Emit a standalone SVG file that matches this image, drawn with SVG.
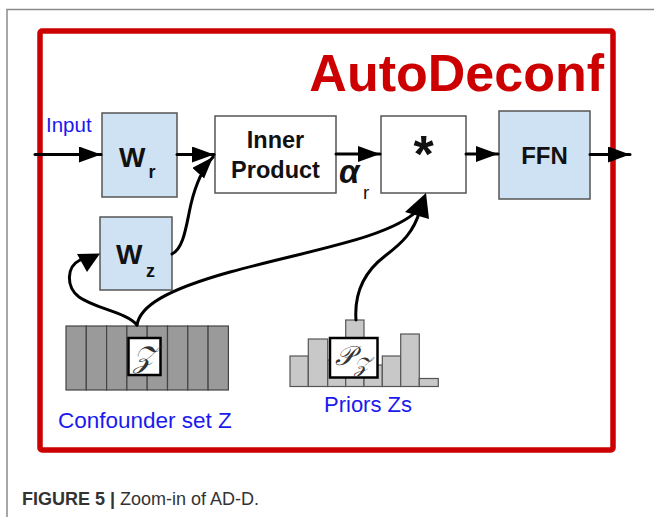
<svg xmlns="http://www.w3.org/2000/svg" width="654" height="517" viewBox="0 0 654 517">
<defs>
<marker id="ah" markerUnits="userSpaceOnUse" markerWidth="24" markerHeight="18" refX="22" refY="8" orient="auto">
<path d="M0,0 L22,8 L0,16 z" fill="#000"/>
</marker>
<style>
.blue{fill:#cfe2f3;stroke:#555;stroke-width:1.5}
.white{fill:#fff;stroke:#555;stroke-width:1.5}
.lbl{font-family:"Liberation Sans",Arial,sans-serif;font-weight:bold;fill:#111}
.bl{font-family:"Liberation Sans",Arial,sans-serif;fill:#1a1aee}
.ln{fill:none;stroke:#000;stroke-width:3;stroke-linecap:round}
.cb{fill:#9a9a9a;stroke:#444;stroke-width:1.2}
.pb{fill:#c8c8c8;stroke:#555;stroke-width:1.2}
.sc{font-family:"DejaVu Serif","Liberation Serif",serif;font-style:italic;fill:#333}
</style>
</defs>
<rect width="654" height="517" fill="#fff"/>
<path d="M7,517 V9.5 H654" fill="none" stroke="#8a8a8a" stroke-width="1.5"/>
<rect x="40" y="31" width="573" height="419" rx="2" fill="none" stroke="#cc0000" stroke-width="5.5"/>
<text x="604" y="91" font-family="Liberation Sans,Arial,sans-serif" font-weight="bold" font-size="52" fill="#cc0000" text-anchor="end">AutoDeconf</text>

<g id="confounder">
<rect class="cb" x="66" y="326" width="20.3" height="64"/>
<rect class="cb" x="86.3" y="326" width="20.3" height="64"/>
<rect class="cb" x="106.6" y="326" width="20.3" height="64"/>
<rect class="cb" x="126.9" y="326" width="20.3" height="64"/>
<rect class="cb" x="147.2" y="326" width="20.3" height="64"/>
<rect class="cb" x="167.5" y="326" width="20.3" height="64"/>
<rect class="cb" x="187.8" y="326" width="20.3" height="64"/>
<rect class="cb" x="208.1" y="326" width="20.3" height="64"/>
<rect x="128.5" y="338" width="32" height="37" fill="#fff" stroke="#000" stroke-width="2.5"/>
<text class="sc" x="144.5" y="367" font-size="30" text-anchor="middle">𝒵</text>
<text class="bl" x="58" y="428" font-size="22.5">Confounder set Z</text>
</g>

<g id="priors">
<rect class="pb" x="290" y="356" width="18.3" height="30.5"/>
<rect class="pb" x="308.3" y="339" width="19.4" height="47.5"/>
<rect class="pb" x="327.7" y="360" width="18" height="26.5"/>
<rect class="pb" x="345.7" y="320" width="18.3" height="66.5"/>
<rect class="pb" x="364" y="365" width="18.3" height="21.5"/>
<rect class="pb" x="382.3" y="356" width="18.4" height="30.5"/>
<rect class="pb" x="400.7" y="334" width="18.6" height="52.5"/>
<rect class="pb" x="419.3" y="378.5" width="19" height="8"/>
<rect x="330" y="338" width="47.5" height="39.5" fill="#fff" stroke="#000" stroke-width="2.5"/>
<text class="sc" x="335" y="365" font-size="27">𝒫</text>
<text class="sc" x="354" y="372" font-size="21">𝒵</text>
<text class="bl" x="324" y="412" font-size="22">Priors Zs</text>
</g>

<g id="input-label"><text class="bl" x="46" y="132" font-size="20.5">Input</text></g>

<g id="Wr">
<rect class="blue" x="102" y="113" width="75" height="84"/>
<text class="lbl" x="119" y="167" font-size="28">W</text>
<text class="lbl" x="148.5" y="178" font-size="18">r</text>
</g>

<g id="Wz">
<rect class="blue" x="100" y="217" width="72" height="73"/>
<text class="lbl" x="116" y="264" font-size="28">W</text>
<text class="lbl" x="146" y="277" font-size="18">z</text>
</g>

<g id="inner">
<rect class="white" x="215" y="116" width="121" height="77"/>
<text class="lbl" x="275.5" y="148" font-size="23.5" text-anchor="middle">Inner</text>
<text class="lbl" x="275.5" y="178" font-size="23.5" text-anchor="middle">Product</text>
</g>

<g id="star">
<rect class="white" x="381" y="116" width="85" height="77"/>
<text class="lbl" x="423.5" y="172" font-size="52" text-anchor="middle">*</text>
</g>

<g id="ffn">
<rect class="blue" x="499" y="111" width="91" height="88"/>
<text class="lbl" x="544.5" y="163.5" font-size="24" text-anchor="middle">FFN</text>
</g>

<g id="alpha">
<text x="339" y="183" font-family="Liberation Sans,Arial,sans-serif" font-weight="bold" font-style="italic" font-size="33" fill="#111">α</text>
<text x="363" y="199" font-family="Liberation Sans,Arial,sans-serif" font-size="19" fill="#111">r</text>
</g>

<g id="connectors">
<path class="ln" d="M35,154.5 H101" marker-end="url(#ah)"/>
<path class="ln" d="M177,154.5 H214" marker-end="url(#ah)"/>
<path class="ln" d="M336,154 H380" marker-end="url(#ah)"/>
<path class="ln" d="M466,154 H498" marker-end="url(#ah)"/>
<path class="ln" d="M590,154.5 H630" marker-end="url(#ah)"/>
<path class="ln" d="M172,254 C184,248 186,226 191,204 C196,183 202,169 213,157" marker-end="url(#ah)"/>
<path class="ln" d="M137,325 C126,312 96,309 79,297 C66,287 66,267 80,260 L84,258.5" />
<path d="M100,253.5 L77,254 L87,272 z" fill="#000"/>
<path class="ln" d="M137,325 C140,306 166,290 230,272 C310,250 390,238 418,210"/>
<path class="ln" d="M356,320 C354,292 364,272 385,256 C402,243 414,232 420,210"/>
<path d="M426,193 L405,212 L429,219 z" fill="#000"/>
</g>

<text x="22" y="505" font-family="Liberation Sans,Arial,sans-serif" font-size="18" fill="#333"><tspan font-weight="bold">FIGURE 5 |</tspan> Zoom-in of AD-D.</text>
</svg>
